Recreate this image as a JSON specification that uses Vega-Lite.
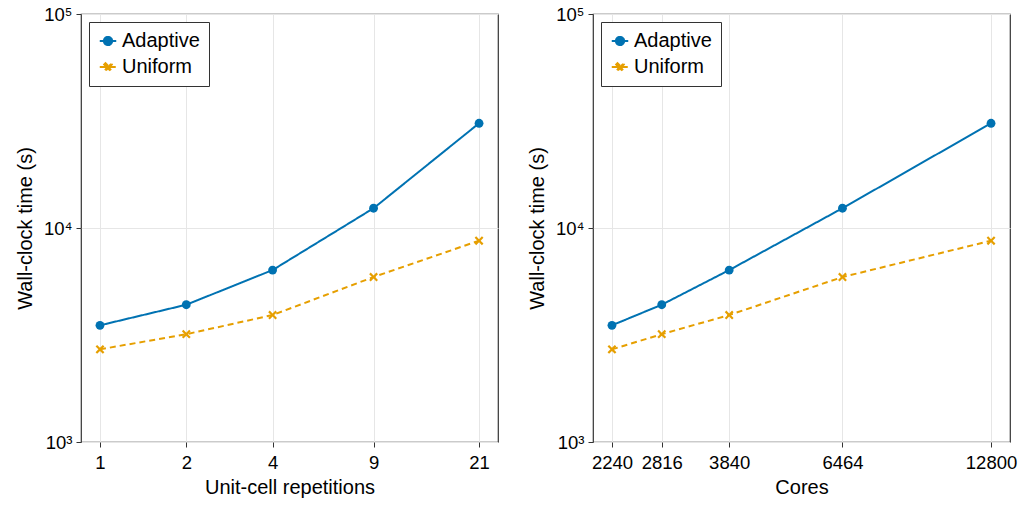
{
  "$schema": "https://vega.github.io/schema/vega-lite/v6.json",
  "padding": {"left": 14, "top": 4, "right": 10, "bottom": 5},
  "datasets": {
    "timing": [
      {"series": "Adaptive", "reps": 1, "cores": 2240, "time": 3510},
      {"series": "Adaptive", "reps": 2, "cores": 2816, "time": 4380},
      {"series": "Adaptive", "reps": 4, "cores": 3840, "time": 6360},
      {"series": "Adaptive", "reps": 9, "cores": 6464, "time": 12370},
      {"series": "Adaptive", "reps": 21, "cores": 12800, "time": 30860},
      {"series": "Uniform", "reps": 1, "cores": 2240, "time": 2710},
      {"series": "Uniform", "reps": 2, "cores": 2816, "time": 3190},
      {"series": "Uniform", "reps": 4, "cores": 3840, "time": 3920},
      {"series": "Uniform", "reps": 9, "cores": 6464, "time": 5900},
      {"series": "Uniform", "reps": 21, "cores": 12800, "time": 8720}
    ]
  },
  "spacing": 95,
  "bounds": "flush",
  "hconcat": [
    {
      "width": 417,
      "height": 428,
      "data": {"name": "timing"},
      "encoding": {
        "x": {"field": "reps", "type": "quantitative", "title": "Unit-cell repetitions",
          "scale": {"type": "log", "domain": [0.8586, 24.45], "nice": false},
          "axis": {"values": [1, 2, 4, 9, 21], "format": "d"}},
        "y": {"field": "time", "type": "quantitative", "title": "Wall-clock time (s)",
          "scale": {"type": "log", "domain": [1000, 100000], "nice": false},
          "axis": {"values": [1000, 10000, 100000], "labelExpr": "datum.value == 1000 ? '10³' : datum.value == 10000 ? '10⁴' : '10⁵'"}},
        "color": {"field": "series", "type": "nominal",
          "scale": {"domain": ["Adaptive", "Uniform"], "range": ["#0072B2", "#E69F00"]},
          "legend": {"title": null,
            "encode": {"symbols": {"update": {
              "shape": {"signal": "datum.value === 'Adaptive' ? 'M-1,0H1M-0.5,0A0.5,0.5 0 1,0 0.5,0A0.5,0.5 0 1,0 -0.5,0Z' : 'M-1,0H1M-0.46,-0.3L-0.3,-0.46L0,-0.16L0.3,-0.46L0.46,-0.3L0.16,0L0.46,0.3L0.3,0.46L0,0.16L-0.3,0.46L-0.46,0.3L-0.16,0Z'"},
              "fill": {"signal": "datum.value === 'Adaptive' ? '#0072B2' : '#E69F00'"},
              "stroke": {"signal": "datum.value === 'Adaptive' ? '#0072B2' : '#E69F00'"},
              "strokeWidth": {"value": 2},
              "strokeDash": {"signal": "datum.value === 'Adaptive' ? [1, 0] : [4, 3]"},
              "opacity": {"value": 1},
              "fillOpacity": {"value": 1}
            }}}}}
      },
      "layer": [
        {"mark": {"type": "line", "strokeWidth": 2},
          "encoding": {"strokeDash": {"field": "series", "type": "nominal",
            "scale": {"domain": ["Adaptive", "Uniform"], "range": [[1, 0], [6, 4]]}, "legend": null}}},
        {"transform": [{"filter": "datum.series === 'Adaptive'"}],
          "mark": {"type": "point", "filled": true, "size": 78, "opacity": 1, "strokeWidth": 0, "shape": "circle"}},
        {"transform": [{"filter": "datum.series === 'Uniform'"}],
          "mark": {"type": "point", "filled": true, "size": 78, "opacity": 1, "strokeWidth": 0, "shape": "M-1,-0.65L-0.65,-1L0,-0.35L0.65,-1L1,-0.65L0.35,0L1,0.65L0.65,1L0,0.35L-0.65,1L-1,0.65L-0.35,0Z"}}
      ]
    },
    {
      "width": 417,
      "height": 428,
      "data": {"name": "timing"},
      "encoding": {
        "x": {"field": "cores", "type": "quantitative", "title": "Cores",
          "scale": {"type": "log", "domain": [2053, 13965], "nice": false},
          "axis": {"values": [2240, 2816, 3840, 6464, 12800], "format": "d"}},
        "y": {"field": "time", "type": "quantitative", "title": "Wall-clock time (s)",
          "scale": {"type": "log", "domain": [1000, 100000], "nice": false},
          "axis": {"values": [1000, 10000, 100000], "labelExpr": "datum.value == 1000 ? '10³' : datum.value == 10000 ? '10⁴' : '10⁵'"}},
        "color": {"field": "series", "type": "nominal",
          "scale": {"domain": ["Adaptive", "Uniform"], "range": ["#0072B2", "#E69F00"]},
          "legend": {"title": null,
            "encode": {"symbols": {"update": {
              "shape": {"signal": "datum.value === 'Adaptive' ? 'M-1,0H1M-0.5,0A0.5,0.5 0 1,0 0.5,0A0.5,0.5 0 1,0 -0.5,0Z' : 'M-1,0H1M-0.46,-0.3L-0.3,-0.46L0,-0.16L0.3,-0.46L0.46,-0.3L0.16,0L0.46,0.3L0.3,0.46L0,0.16L-0.3,0.46L-0.46,0.3L-0.16,0Z'"},
              "fill": {"signal": "datum.value === 'Adaptive' ? '#0072B2' : '#E69F00'"},
              "stroke": {"signal": "datum.value === 'Adaptive' ? '#0072B2' : '#E69F00'"},
              "strokeWidth": {"value": 2},
              "strokeDash": {"signal": "datum.value === 'Adaptive' ? [1, 0] : [4, 3]"},
              "opacity": {"value": 1},
              "fillOpacity": {"value": 1}
            }}}}}
      },
      "layer": [
        {"mark": {"type": "line", "strokeWidth": 2},
          "encoding": {"strokeDash": {"field": "series", "type": "nominal",
            "scale": {"domain": ["Adaptive", "Uniform"], "range": [[1, 0], [6, 4]]}, "legend": null}}},
        {"transform": [{"filter": "datum.series === 'Adaptive'"}],
          "mark": {"type": "point", "filled": true, "size": 78, "opacity": 1, "strokeWidth": 0, "shape": "circle"}},
        {"transform": [{"filter": "datum.series === 'Uniform'"}],
          "mark": {"type": "point", "filled": true, "size": 78, "opacity": 1, "strokeWidth": 0, "shape": "M-1,-0.65L-0.65,-1L0,-0.35L0.65,-1L1,-0.65L0.35,0L1,0.65L0.65,1L0,0.35L-0.65,1L-1,0.65L-0.35,0Z"}}
      ]
    }
  ],
  "resolve": {
    "scale": {"color": "independent", "strokeDash": "independent"},
    "legend": {"color": "independent", "strokeDash": "independent"}
  },
  "config": {
    "font": "Liberation Sans",
    "view": {"stroke": "#333", "strokeWidth": 1.2},
    "axis": {
      "labelFont": "Liberation Sans", "titleFont": "Liberation Sans",
      "labelFontSize": 18.5, "titleFontSize": 20, "titleFontWeight": "normal",
      "labelColor": "#000", "titleColor": "#000",
      "tickColor": "#333", "tickSize": 5, "tickWidth": 1,
      "domain": false, "grid": true, "gridColor": "#e6e6e6", "gridWidth": 1,
      "labelPadding": 4
    },
    "axisX": {"labelPadding": 6, "titlePadding": 6},
    "axisY": {"titlePadding": 8},
    "legend": {
      "orient": "top-left", "offset": 8, "strokeColor": "#333", "fillColor": "white",
      "padding": 9, "rowPadding": 6, "labelFont": "Liberation Sans", "labelFontSize": 20,
      "labelColor": "#000", "symbolSize": 272, "labelOffset": 4, "cornerRadius": 0
    }
  }
}
